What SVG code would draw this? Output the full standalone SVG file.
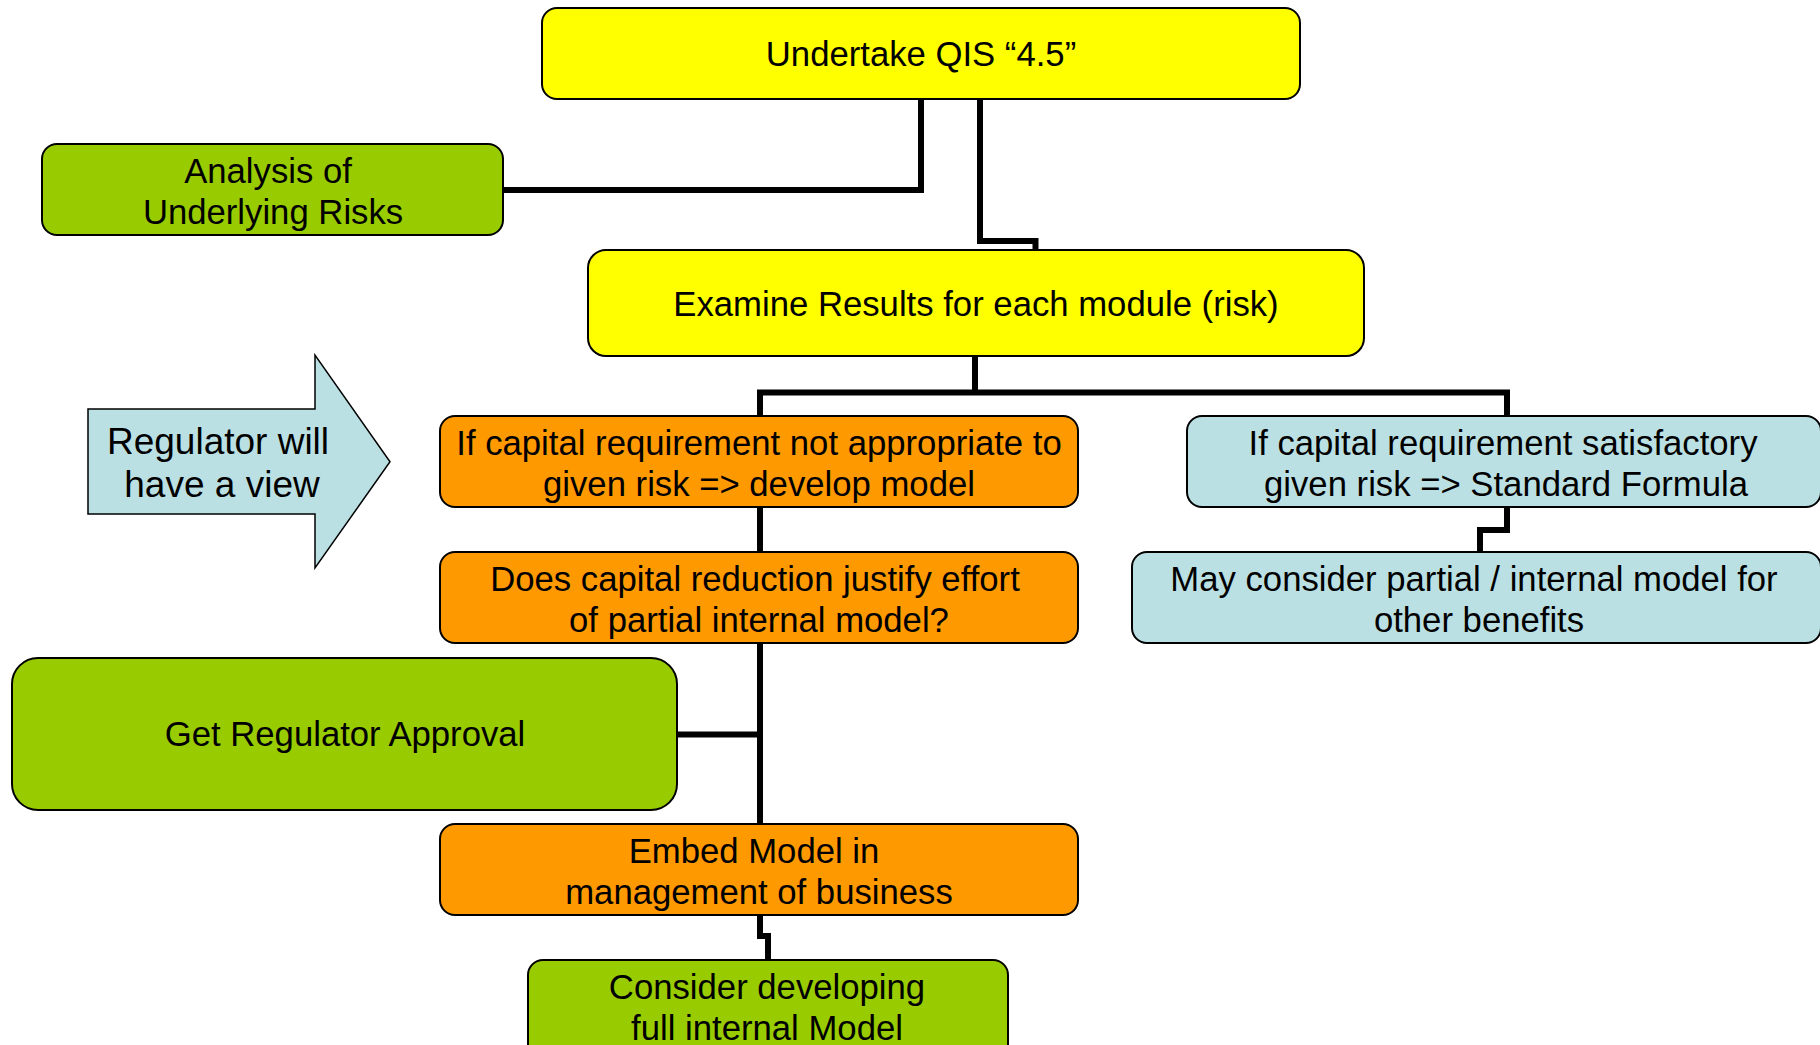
<svg xmlns="http://www.w3.org/2000/svg" width="1820" height="1045" viewBox="0 0 1820 1045">
<style>
  .box { stroke: #000; stroke-width: 2; }
  .yellow { fill: #FFFF00; }
  .green { fill: #99CC00; }
  .orange { fill: #FF9900; }
  .blue { fill: #BBE0E3; }
  text { font-family: "Liberation Sans", Arial, Helvetica, sans-serif; font-size: 34.7px; fill: #000; text-anchor: middle; }
  .big { font-size: 37px; }
  .conn { fill: none; stroke: #000; stroke-width: 6; stroke-linejoin: miter; stroke-linecap: butt; }
</style>
<rect width="1820" height="1045" fill="#fff"/>
<g id="connectors">
  <path class="conn" d="M503 190 H921 V99"/>
  <path class="conn" d="M980 99 V241 H1035.5 V250"/>
  <path class="conn" d="M975 356 V392.5"/>
  <path class="conn" d="M760 416 V392.5 H1507 V416"/>
  <path class="conn" d="M760 507 V552"/>
  <path class="conn" d="M1507 507 V530 H1480 V552"/>
  <path class="conn" d="M760 643 V824"/>
  <path class="conn" d="M677 734.5 H760"/>
  <path class="conn" d="M760 915 V936 H768 V960"/>
</g>
<g id="node-undertake">
  <rect class="box yellow" x="542" y="8" width="758" height="91" rx="15"/>
  <text x="921" y="66">Undertake QIS “4.5”</text>
</g>
<g id="node-analysis">
  <rect class="box green" x="42" y="144" width="461" height="91" rx="15"/>
  <text x="268" y="183">Analysis of</text>
  <text x="273" y="224">Underlying Risks</text>
</g>
<g id="node-examine">
  <rect class="box yellow" x="588" y="250" width="776" height="106" rx="18"/>
  <text x="976" y="316">Examine Results for each module (risk)</text>
</g>
<g id="node-regulator-view">
  <path d="M88 409 H315 V355 L390 461.7 L315 568 V514 H88 Z" fill="#BBE0E3" stroke="#000" stroke-width="1.5" stroke-linejoin="miter"/>
  <text class="big" x="218" y="454">Regulator will</text>
  <text class="big" x="222" y="497">have a view</text>
</g>
<g id="node-develop-model">
  <rect class="box orange" x="440" y="416" width="638" height="91" rx="15"/>
  <text x="759" y="455">If capital requirement not appropriate to</text>
  <text x="759" y="496">given risk =&gt; develop model</text>
</g>
<g id="node-standard-formula">
  <rect class="box blue" x="1187" y="416" width="634" height="91" rx="15"/>
  <text x="1503" y="455">If capital requirement satisfactory</text>
  <text x="1506" y="496">given risk =&gt; Standard Formula</text>
</g>
<g id="node-capital-reduction">
  <rect class="box orange" x="440" y="552" width="638" height="91" rx="15"/>
  <text x="755" y="591">Does capital reduction justify effort</text>
  <text x="759" y="632">of partial internal model?</text>
</g>
<g id="node-other-benefits">
  <rect class="box blue" x="1132" y="552" width="689" height="91" rx="15"/>
  <text x="1474" y="591">May consider partial / internal model for</text>
  <text x="1479" y="632">other benefits</text>
</g>
<g id="node-regulator-approval">
  <rect class="box green" x="12" y="658" width="665" height="152" rx="26"/>
  <text x="345" y="746">Get Regulator Approval</text>
</g>
<g id="node-embed">
  <rect class="box orange" x="440" y="824" width="638" height="91" rx="15"/>
  <text x="754" y="863">Embed Model in</text>
  <text x="759" y="904">management of business</text>
</g>
<g id="node-full-model">
  <rect class="box green" x="528" y="960" width="480" height="100" rx="15"/>
  <text x="767" y="999">Consider developing</text>
  <text x="767" y="1040">full internal Model</text>
</g>
</svg>
